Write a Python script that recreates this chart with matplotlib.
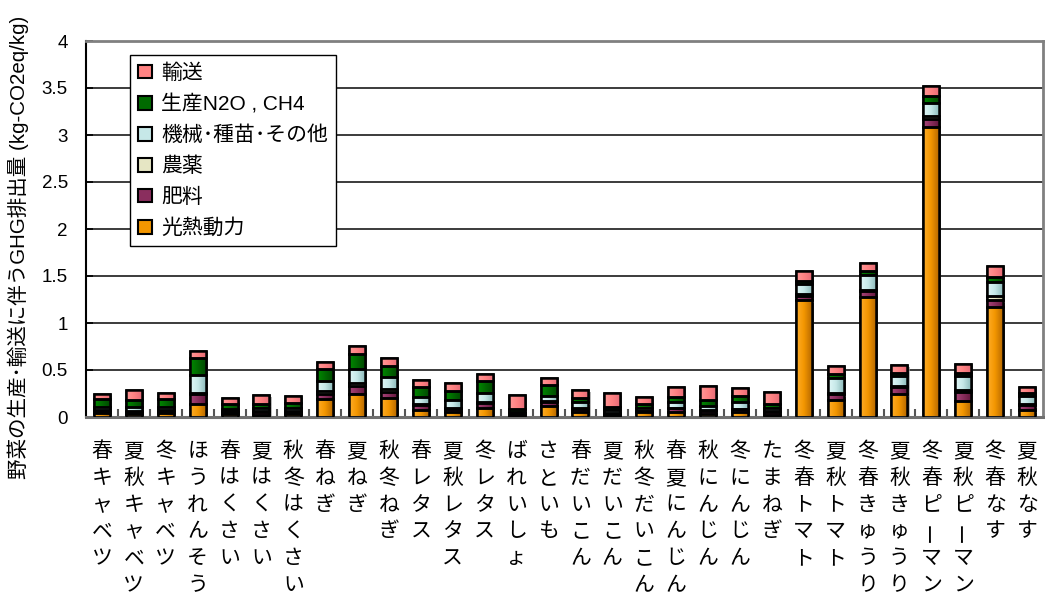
import matplotlib
matplotlib.use("Agg")
import numpy as np
import matplotlib.pyplot as plt
from matplotlib.colors import LinearSegmentedColormap
from matplotlib.patches import Patch
from matplotlib import patheffects as pe

plt.rcParams["font.family"] = ["Liberation Sans", "Noto Sans CJK JP"]

# 品目（作型）
categories = [
    "春キャベツ", "夏秋キャベツ", "冬キャベツ", "ほうれんそう", "春はくさい",
    "夏はくさい", "秋冬はくさい", "春ねぎ", "夏ねぎ", "秋冬ねぎ",
    "春レタス", "夏秋レタス", "冬レタス", "ばれいしょ", "さといも",
    "春だいこん", "夏だいこん", "秋冬だいこん", "春夏にんじん", "秋にんじん",
    "冬にんじん", "たまねぎ", "冬春トマト", "夏秋トマト", "冬春きゅうり",
    "夏秋きゅうり", "冬春ピーマン", "夏秋ピーマン", "冬春なす", "夏秋なす",
]

# 排出要因別 GHG 排出量 (kg-CO2eq/kg)
kounetsu = [0.04, 0.035, 0.04, 0.135, 0.035, 0.02, 0.035, 0.195, 0.25, 0.205,
            0.075, 0.055, 0.10, 0.01, 0.115, 0.055, 0.015, 0.05, 0.055, 0.03,
            0.055, 0.02, 1.24, 0.18, 1.28, 0.24, 3.09, 0.17, 1.17, 0.07]
hiryou = [0.02, 0.02, 0.02, 0.11, 0.02, 0.03, 0.02, 0.05, 0.08, 0.06,
          0.05, 0.035, 0.05, 0.02, 0.04, 0.03, 0.02, 0.01, 0.04, 0.035,
          0.03, 0.03, 0.05, 0.06, 0.06, 0.08, 0.08, 0.095, 0.07, 0.053]
nouyaku = [0.01, 0.01, 0.01, 0.01, 0.01, 0.01, 0.01, 0.035, 0.035, 0.03,
           0.01, 0.01, 0.01, 0.01, 0.01, 0.01, 0.01, 0.005, 0.005, 0.005,
           0.005, 0.01, 0.02, 0.02, 0.01, 0.015, 0.035, 0.02, 0.045, 0.018]
kikai = [0.04, 0.04, 0.04, 0.19, 0.02, 0.04, 0.035, 0.105, 0.15, 0.13,
         0.08, 0.08, 0.10, 0.01, 0.06, 0.06, 0.03, 0.03, 0.06, 0.05,
         0.065, 0.035, 0.11, 0.16, 0.16, 0.10, 0.135, 0.15, 0.155, 0.08]
n2o_ch4 = [0.08, 0.08, 0.08, 0.18, 0.05, 0.04, 0.045, 0.125, 0.16, 0.12,
           0.10, 0.095, 0.12, 0.03, 0.115, 0.05, 0.035, 0.045, 0.055, 0.06,
           0.07, 0.045, 0.03, 0.04, 0.045, 0.035, 0.078, 0.035, 0.053, 0.035]
yusou = [0.06, 0.10, 0.065, 0.08, 0.065, 0.09, 0.075, 0.08, 0.085, 0.08,
         0.08, 0.09, 0.08, 0.155, 0.08, 0.08, 0.14, 0.07, 0.10, 0.145,
         0.08, 0.13, 0.10, 0.08, 0.08, 0.085, 0.10, 0.095, 0.117, 0.067]

series_names = ["光熱動力", "肥料", "農薬", "機械･種苗･その他", "生産N2O , CH4", "輸送"]
series_values = [kounetsu, hiryou, nouyaku, kikai, n2o_ch4, yusou]

y_ticks = [0, 0.5, 1, 1.5, 2, 2.5, 3, 3.5, 4]
y_label = "野菜の生産･輸送に伴うGHG排出量 (kg-CO2eq/kg)"

# left-to-right shading for each component (light, mid, dark)
shades = [
    ("#FFAE2A", "#F39600", "#B86A00"),
    ("#A8477A", "#8A2E5E", "#64183E"),
    ("#F8F8E0", "#E6E6C4", "#BDBD96"),
    ("#E2F8F8", "#C6E8E8", "#8FBDBD"),
    ("#008A00", "#006A00", "#004A00"),
    ("#FF9A9A", "#FF8282", "#E86C78"),
]
cmaps = [LinearSegmentedColormap.from_list(f"s{i}", c) for i, c in enumerate(shades)]

W, H = 1045, 601
fig = plt.figure(figsize=(W / 100, H / 100), dpi=100)
ax = fig.add_axes([86 / W, (H - 417) / H, (1043 - 86) / W, (417 - 41) / H])

x = np.arange(len(categories))
bottom = np.zeros(len(x))
grad = np.linspace(0, 1, 64).reshape(1, -1)
bar_w = 0.5
shadow = [pe.SimplePatchShadow(offset=(1.5, -1.5), shadow_rgbFace="#9a9a9a", alpha=0.7), pe.Normal()]

for k, vals in enumerate(series_values):
    vals = np.asarray(vals, dtype=float)
    bars = ax.bar(x, vals, bar_w, bottom=bottom, color=shades[k][1],
                  edgecolor="black", linewidth=1.8, zorder=2)
    for p in bars:
        p.set_path_effects(shadow)
        bb = p.get_bbox()
        im = ax.imshow(grad, cmap=cmaps[k], extent=(bb.x0, bb.x1, bb.y0, bb.y1),
                       aspect="auto", origin="lower", interpolation="bilinear", zorder=2.2)
        im.set_clip_path(p)
    ax.bar(x, vals, bar_w, bottom=bottom, fill=False, edgecolor="black",
           linewidth=1.8, zorder=3)
    bottom += vals

ax.set_xlim(-0.5, len(categories) - 0.5)
ax.set_ylim(0, 4)

# y axis
ax.set_yticks(y_ticks)
ax.set_yticklabels([f"{v:g}" for v in y_ticks])
ax.tick_params(axis="y", direction="in", length=5, width=1.2, pad=13, labelsize=13.5)
ax.yaxis.grid(True, color="#1a1a1a", linewidth=1.2)
ax.set_axisbelow(True)

# x axis: ticks between categories, labels written vertically
ax.set_xticks([])
ax.set_xticks(np.arange(0.5, len(categories) - 1, 1), minor=True)
ax.tick_params(axis="x", which="minor", direction="in", length=6, width=1.5, color="#555555")

step_pt = 19.3
first_pt = 24.5
for i, name in enumerate(categories):
    for j, ch in enumerate(name):
        rot = 90 if ch == "ー" else 0
        ax.annotate(ch, xy=(i, 0), xycoords=("data", "axes fraction"),
                    xytext=(0, -first_pt - j * step_pt), textcoords="offset points",
                    ha="center", va="center", fontsize=15, rotation=rot,
                    rotation_mode="anchor", family=["Noto Sans CJK JP"],
                    annotation_clip=False)

for side in ("top", "right"):
    ax.spines[side].set_color("#808080")
    ax.spines[side].set_linewidth(2)
ax.spines["left"].set_color("black")
ax.spines["left"].set_linewidth(1.5)
ax.spines["bottom"].set_color("#707070")
ax.spines["bottom"].set_linewidth(2.2)

fig.text(18 / W, (H - 247) / H, y_label, rotation=90, ha="center", va="center", fontsize=14.8)

handles = [Patch(facecolor=shades[k][1], edgecolor="black", linewidth=1.5) for k in range(len(series_names))]
leg = ax.legend(handles[::-1], series_names[::-1], loc="upper left",
                bbox_to_anchor=((130 - 86) / (1043 - 86), (417 - 55) / (417 - 41)),
                borderaxespad=0, fontsize=15, frameon=True, fancybox=False,
                edgecolor="black", framealpha=1, handlelength=0.65, handleheight=0.65,
                handletextpad=0.45, labelspacing=0.55, borderpad=0.4)
leg.get_frame().set_linewidth(1.0)
leg.set_zorder(5)

fig.savefig("out.png", dpi=100)
